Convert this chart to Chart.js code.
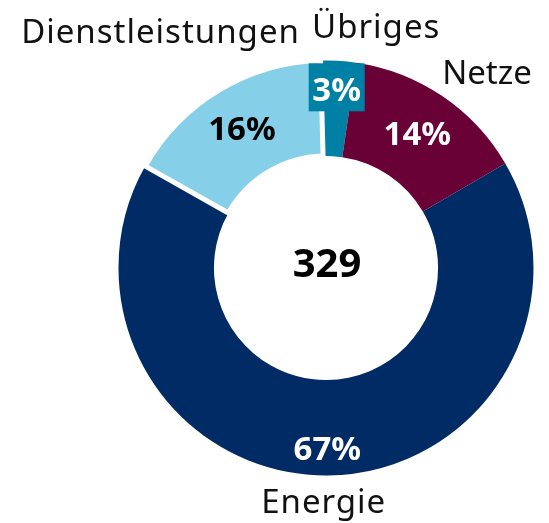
<!DOCTYPE html>
<html>
<head>
<meta charset="utf-8">
<script src="https://cdn.jsdelivr.net/npm/chart.js@4/dist/chart.umd.min.js"></script>
<style>
  html, body { margin: 0; padding: 0; background: #fff; }
  canvas { display: block; }
</style>
</head>
<body>
<canvas id="donut" width="549" height="523"></canvas>
<script>
// values (sum = 329)
const categories = ['Übriges', 'Netze', 'Energie', 'Dienstleistungen'];
const values = [9, 47, 219, 54];
const percentLabels = ['3%', '14%', '67%', '16%'];
const totalLabel = '329';

const sliceColors = ['#0080a4', '#690036', '#002b65', '#86cfe8'];
const percentColors = ['#ffffff', '#ffffff', '#ffffff', '#000000'];
// white edge only round the light blue slice
const sliceBorders = [0, 0, 0, 5];

// label placement tweaks (radius inside the ring, nudge for the names)
const percentRadius = [179, 163, 180, 163];
const namePush = [[36, -4], [28, 2], [-4, -3], [-43, -33]];
const nameSpacing = ['1px', '0px', '1px', '1px'];

const labelPlugin = {
    id: 'donutLabels',
    afterDatasetsDraw(chart) {
        const ctx = chart.ctx;
        const arcs = chart.getDatasetMeta(0).data;
        ctx.save();
        arcs.forEach((arc, i) => {
            const p = arc.getProps(['x', 'y', 'startAngle', 'endAngle', 'outerRadius'], true);
            const mid = (p.startAngle + p.endAngle) / 2;

            // percent inside the ring
            const px = p.x + Math.cos(mid) * percentRadius[i];
            const py = p.y + Math.sin(mid) * percentRadius[i];
            ctx.letterSpacing = '0px';
            ctx.font = 'bold 33px "Noto Sans"';
            ctx.textAlign = 'center';
            ctx.textBaseline = 'alphabetic';
            if (i === 0) {
                ctx.fillStyle = sliceColors[0];
                ctx.fillRect(px - 28, py - 26, 56, 48);
            }
            ctx.fillStyle = percentColors[i];
            ctx.fillText(percentLabels[i], px, py + 12);

            // category name outside
            const r = p.outerRadius + 30;
            const nx = p.x + Math.cos(mid) * r + namePush[i][0];
            const ny = p.y + Math.sin(mid) * r + namePush[i][1];
            ctx.letterSpacing = nameSpacing[i];
            ctx.font = '33px "Noto Sans"';
            ctx.fillStyle = '#111111';
            ctx.fillText(categories[i], nx, ny + 11);
        });

        // total in the hole
        const c = arcs[0];
        ctx.letterSpacing = '0px';
        ctx.font = 'bold 40px "Noto Sans"';
        ctx.fillStyle = '#000000';
        ctx.textAlign = 'center';
        ctx.fillText(totalLabel, c.x + 1, c.y + 9);
        ctx.restore();
    }
};

new Chart(document.getElementById('donut'), {
    type: 'doughnut',
    data: {
        labels: categories,
        datasets: [{
            data: values,
            backgroundColor: sliceColors,
            borderColor: '#ffffff',
            borderWidth: sliceBorders,
            hoverBorderWidth: 0
        }]
    },
    options: {
        responsive: false,
        animation: false,
        cutout: '54%',
        rotation: -1.5,
        layout: {
            padding: { left: 116, right: 13, top: 58, bottom: 45 }
        },
        plugins: {
            legend: { display: false },
            tooltip: { enabled: false }
        }
    },
    plugins: [labelPlugin]
});
</script>
</body>
</html>
